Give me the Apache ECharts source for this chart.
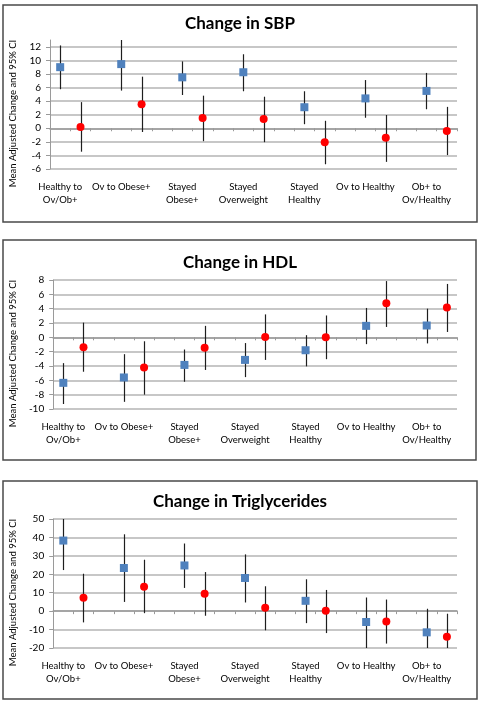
<!DOCTYPE html>
<html>
<head>
<meta charset="utf-8">
<script src="https://cdn.jsdelivr.net/npm/echarts@6/dist/echarts.min.js"></script>
<style>
html,body{margin:0;padding:0;background:#fff;}
#c{width:480px;height:702px;}
</style>
</head>
<body>
<div id="c"></div>
<script>
// ---- data ----
const groups = ['Healthy to\nOv/Ob+', 'Ov to Obese+', 'Stayed\nObese+', 'Stayed\nOverweight', 'Stayed\nHealthy', 'Ov to Healthy', 'Ob+ to\nOv/Healthy'];

const titles = ['Change in SBP', 'Change in HDL', 'Change in Triglycerides'];
const yName = 'Mean Adjusted Change and 95% CI';

const sbpTicks = [-6, -4, -2, 0, 2, 4, 6, 8, 10, 12];
const sbpAxisMax = 13;
const sbpBlue     = [9.0, 9.45, 7.5, 8.25, 3.1, 4.4, 5.5];
const sbpBlueLow  = [5.75, 5.55, 4.9, 5.45, 0.6, 1.55, 2.8];
const sbpBlueHigh = [12.2, 13.05, 9.85, 10.9, 5.45, 7.1, 8.15];
const sbpRed      = [0.2, 3.55, 1.5, 1.35, -2.05, -1.4, -0.4];
const sbpRedLow   = [-3.45, -0.55, -1.9, -2.05, -5.3, -4.95, -3.95];
const sbpRedHigh  = [3.85, 7.6, 4.8, 4.65, 1.1, 1.95, 3.15];

const hdlTicks = [-10, -8, -6, -4, -2, 0, 2, 4, 6, 8];
const hdlAxisMax = 8;
const hdlBlue     = [-6.35, -5.6, -3.85, -3.15, -1.8, 1.6, 1.65];
const hdlBlueLow  = [-9.3, -9.0, -6.2, -5.55, -4.05, -0.95, -0.85];
const hdlBlueHigh = [-3.6, -2.35, -1.7, -0.8, 0.3, 4.1, 4.0];
const hdlRed      = [-1.4, -4.2, -1.45, 0.05, 0.0, 4.75, 4.15];
const hdlRedLow   = [-4.8, -8.0, -4.55, -3.15, -3.05, 1.45, 0.75];
const hdlRedHigh  = [2.05, -0.55, 1.6, 3.2, 3.05, 7.85, 7.45];

const tgTicks = [-20, -10, 0, 10, 20, 30, 40, 50];
const tgAxisMax = 50;
const tgBlue     = [38.3, 23.4, 24.8, 18.0, 5.6, -5.9, -11.5];
const tgBlueLow  = [22.3, 5.0, 12.6, 4.7, -6.5, -20.5, -24.5];
const tgBlueHigh = [54.3, 41.7, 36.7, 30.8, 17.3, 7.4, 1.3];
const tgRed      = [7.2, 13.3, 9.5, 1.8, 0.2, -5.6, -13.9];
const tgRedLow   = [-6.1, -1.1, -2.5, -10.4, -11.9, -17.6, -26.4];
const tgRedHigh  = [20.3, 27.9, 21.2, 13.5, 11.5, 6.3, -1.4];

// ---- build ----
const panels = [
  {ticks: sbpTicks, max: sbpAxisMax, blue: sbpBlue, blo: sbpBlueLow, bhi: sbpBlueHigh, red: sbpRed, rlo: sbpRedLow, rhi: sbpRedHigh},
  {ticks: hdlTicks, max: hdlAxisMax, blue: hdlBlue, blo: hdlBlueLow, bhi: hdlBlueHigh, red: hdlRed, rlo: hdlRedLow, rhi: hdlRedHigh},
  {ticks: tgTicks, max: tgAxisMax, blue: tgBlue, blo: tgBlueLow, bhi: tgBlueHigh, red: tgRed, rlo: tgRedLow, rhi: tgRedHigh}
];

// layout (px)
const boxes = [
  {x: 3, y: 5, w: 474, h: 217},
  {x: 3, y: 240, w: 473, h: 220},
  {x: 3, y: 481, w: 474, h: 218}
];
const gridTops = [40, 280, 519];
const titleTops = [15, 254, 493];
const gridH = 129;

// slots: each group has blue, red, gap (last group without gap)
const nSlots = groups.length * 3 - 1;
const slots = [];
const slotLabels = [];
for (let i = 0; i < nSlots; i++) {
  slots.push('s' + i);
  slotLabels.push(i % 3 === 0 ? groups[i / 3] : '');
}

const FONT = 'Lato';
const gridColor = '#b4b4b4';
const axisColor = '#9a9a9a';

function errRender(params, api) {
  const x = api.value(0);
  const lo = api.coord([x, api.value(1)]);
  const hi = api.coord([x, api.value(2)]);
  const cs = params.coordSys;
  const clamp = y => Math.max(cs.y, Math.min(cs.y + cs.height, y));
  return {
    type: 'line',
    shape: {x1: Math.round(lo[0]) + 0.5, y1: clamp(lo[1]), x2: Math.round(hi[0]) + 0.5, y2: clamp(hi[1])},
    style: {stroke: '#1e1e1e', lineWidth: 1.2}
  };
}

const option = {
  animation: false,
  backgroundColor: '#fff',
  title: [], grid: [], xAxis: [], yAxis: [], series: [],
  graphic: boxes.map(b => ({
    type: 'rect', shape: {x: b.x, y: b.y, width: b.w, height: b.h},
    style: {fill: 'none', stroke: '#4a4a4a', lineWidth: 1.5}, z: 100
  }))
};

panels.forEach((p, k) => {
  option.title.push({
    text: titles[k], left: 'center', top: titleTops[k], padding: 0,
    textStyle: {fontFamily: FONT, fontWeight: 'bold', fontSize: 17, color: '#000'}
  });
  option.grid.push({left: 41, width: 416, top: gridTops[k], height: gridH});
  const mn = p.ticks[0];
  const iv = p.ticks[1] - p.ticks[0];
  const lastIsMax = p.max === p.ticks[p.ticks.length - 1];
  option.yAxis.push({
    type: 'value', gridIndex: k, min: mn, max: p.max, interval: iv,
    name: yName, nameLocation: 'middle', nameGap: 32, nameRotate: 90,
    nameTextStyle: {fontFamily: FONT, fontSize: 9.5, color: '#000', padding: [0, 18, 0, 0]},
    axisLine: {show: true, onZero: false, lineStyle: {color: axisColor, width: 1}},
    axisTick: {show: true, length: 4, lineStyle: {color: axisColor}},
    axisLabel: {fontFamily: FONT, fontSize: 10, color: '#000', margin: 9, showMaxLabel: lastIsMax},
    splitLine: {show: true, showMaxLine: lastIsMax, lineStyle: {color: gridColor, width: 1.5}}
  });
  // zero-line axis with ticks
  option.xAxis.push({
    type: 'category', gridIndex: k, data: slots, position: 'bottom',
    axisLine: {show: true, onZero: true, onZeroAxisIndex: k, lineStyle: {color: axisColor, width: 1.5}},
    axisTick: {show: true, interval: 0, length: 3, lineStyle: {color: axisColor}},
    axisLabel: {show: false}, splitLine: {show: false}
  });
  // label axis at bottom
  option.xAxis.push({
    type: 'category', gridIndex: k, data: slots, position: 'bottom',
    axisLine: {show: false, onZero: false}, axisTick: {show: false},
    axisLabel: {
      interval: 0, margin: 12, fontFamily: FONT, fontSize: 9.5, lineHeight: 12.5, color: '#000',
      formatter: (v, i) => slotLabels[i]
    },
    splitLine: {show: false}
  });
  const blueErr = p.blue.map((v, g) => [3 * g, p.blo[g], p.bhi[g]]);
  const redErr = p.red.map((v, g) => [3 * g + 1, p.rlo[g], p.rhi[g]]);
  [blueErr, redErr].forEach(d => option.series.push({
    type: 'custom', xAxisIndex: 2 * k, yAxisIndex: k, data: d,
    encode: {x: 0, y: [1, 2]}, renderItem: errRender, z: 3, silent: true
  }));
  option.series.push({
    type: 'scatter', xAxisIndex: 2 * k, yAxisIndex: k, symbol: 'rect', symbolSize: 8,
    itemStyle: {color: '#4f81bd', opacity: 1}, z: 5, silent: true,
    data: p.blue.map((v, g) => [3 * g, v])
  });
  option.series.push({
    type: 'scatter', xAxisIndex: 2 * k, yAxisIndex: k, symbol: 'circle', symbolSize: 8,
    itemStyle: {color: '#ff0000', opacity: 1}, z: 5, silent: true,
    data: p.red.map((v, g) => [3 * g + 1, v])
  });
});

const chart = echarts.init(document.getElementById('c'), null, {renderer: 'canvas'});
chart.setOption(option);
</script>
</body>
</html>
